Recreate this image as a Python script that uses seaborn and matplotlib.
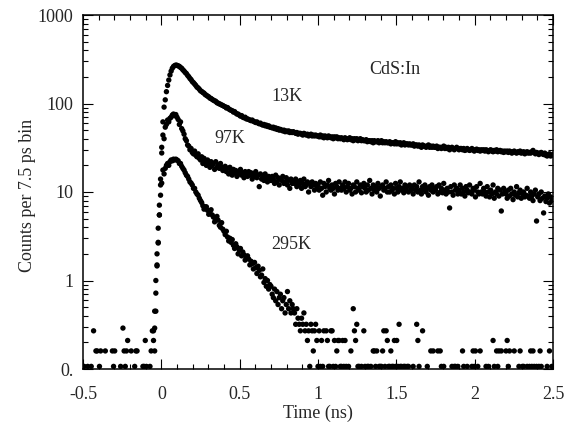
"""
plot.py - CdS:In time-resolved photoluminescence decays at three temperatures.
"""

import numpy as np
import pandas as pd
import matplotlib
matplotlib.use('Agg')
import matplotlib.pyplot as plt
import seaborn as sns
from matplotlib.ticker import LogLocator, MultipleLocator, NullFormatter

# ─────────────────────────────────────────────
# Data (counts per bin)
# bins are 7.5 ps wide, starting at -0.5 ns; 0.05 = one count (below the axis)
# ─────────────────────────────────────────────

T_START = -0.5
BIN_NS = 0.0075

counts_13k = [
    0.05, 0.05, 0.05, 0.05, 0.05, 0.05, 0.05, 0.05, 0.05, 0.05, 0.05, 0.05, 0.05, 0.05, 0.05, 0.05, 0.05, 0.05, 0.05, 0.05,
    0.05, 0.05, 0.05, 0.05, 0.05, 0.05, 0.05, 0.05, 0.05, 0.05, 0.05, 0.05, 0.05, 0.05, 0.05, 0.05, 0.05, 0.05, 0.05, 0.05,
    0.05, 0.05, 0.05, 0.05, 0.05, 0.05, 0.05, 0.05, 0.05, 0.05, 0.05, 0.05, 0.05, 0.05, 0.05, 0.05, 0.05, 0.05, 0.05, 0.05,
    0.05, 0.16, 0.45, 1.46, 2.65, 5.5, 12, 32, 62, 91, 110, 136, 160, 184, 210, 232, 250, 262, 268, 272,
    270, 266, 263, 255, 250, 240, 233, 224, 218, 208, 201, 192, 186, 177, 172, 166, 160, 153, 150, 145,
    139, 137, 133, 131, 126, 124, 121, 119, 115, 114, 111, 109, 107, 106, 102, 101, 99, 98, 96, 95,
    93, 92, 89, 90, 87, 85, 84, 83, 80, 81, 78, 76, 76, 74, 72, 73, 70, 69, 70, 67,
    67, 66, 65, 64, 65, 63, 62, 61, 62, 60, 59, 60, 58, 57, 58, 56, 57, 55, 56, 54,
    54, 53, 54, 52, 53, 51, 52, 50, 51, 50, 49, 50, 48, 49, 48, 49, 47, 48, 47, 48,
    47, 46, 47, 45, 46, 46, 45, 44, 46, 45, 44, 45, 43, 44, 45, 43, 44, 43, 44, 43,
    43, 42, 44, 42, 43, 41, 43, 42, 41, 43, 42, 41, 42, 40, 42, 41, 42, 40, 41, 40,
    41, 40, 39, 41, 40, 39, 40, 41, 39, 40, 38, 40, 39, 40, 38, 39, 40, 38, 39, 38,
    38, 39, 37, 38, 38, 37, 38, 36, 38, 37, 37, 38, 36, 37, 38, 36, 37, 36, 37, 36,
    36, 37, 35, 36, 36, 35, 37, 35, 36, 35, 36, 34, 35, 36, 34, 35, 35, 34, 35, 34,
    34, 35, 33, 34, 34, 33, 34, 33, 32, 34, 33, 33, 32, 33, 34, 32, 33, 32, 33, 32,
    32, 33, 31, 32, 32, 31, 32, 33, 31, 32, 31, 32, 30, 31, 32, 31, 30, 31, 32, 31,
    30, 31, 31, 30, 31, 29.5, 30, 31, 30, 29.5, 30, 31, 30, 29, 30, 30.5, 29.5, 30, 29, 30,
    29.5, 30, 29, 30, 29.5, 28.5, 29.5, 30, 29, 28.5, 29.5, 29, 30, 28.5, 29, 29.5, 28.5, 29, 28, 29,
    28.5, 29, 28, 29, 28.5, 27.5, 28.5, 29, 28, 27.5, 28.5, 28, 29, 27.5, 28, 28.5, 27, 28, 28.5, 27.5,
    28, 27.5, 28.5, 29.5, 28, 27, 28, 27.5, 26.5, 27.5, 28, 27, 26.5, 27.5, 26, 25.5, 26.5, 27, 25.5, 26,
    26.5,
]

counts_97k = [
    0.05, 0.05, 0.05, 0.05, 0.05, 0.05, 0.05, 0.05, 0.05, 0.05, 0.05, 0.05, 0.05, 0.05, 0.05, 0.05, 0.05, 0.05, 0.05, 0.05,
    0.05, 0.05, 0.05, 0.05, 0.05, 0.05, 0.05, 0.05, 0.05, 0.05, 0.05, 0.05, 0.05, 0.05, 0.05, 0.05, 0.05, 0.05, 0.05, 0.05,
    0.05, 0.05, 0.05, 0.05, 0.05, 0.05, 0.05, 0.05, 0.05, 0.05, 0.05, 0.05, 0.05, 0.05, 0.05, 0.05, 0.05, 0.05, 0.05, 0.05,
    0.21, 0.29, 1.0, 2.0, 3.9, 7.1, 14, 27.6, 44, 40, 54, 58, 65, 62, 68, 70, 74, 76, 73, 75,
    70, 66, 58, 62, 52, 49, 45, 40, 38, 34, 33, 30, 31, 28, 27, 29, 26, 25, 27, 24,
    23, 25, 21, 24, 22, 20, 23, 21, 19, 22, 20, 21, 18, 22, 19, 20, 18.5, 21, 19, 17.5,
    18, 19.5, 17, 18.5, 16, 19, 17, 15.5, 18, 16.5, 17.5, 15, 17, 16, 18, 15.5, 16.5, 14.5, 17, 16,
    15, 17, 15.5, 16.5, 14, 16, 15, 17, 14.5, 15.5, 11.5, 16, 14, 15, 13.5, 16, 14.5, 13, 15, 14,
    13.5, 15, 14, 12.5, 15.5, 13, 14.5, 12, 14, 13.5, 15, 12.5, 13, 14.5, 12, 13.5, 11, 14, 12.5, 13,
    12.5, 14, 11.5, 13, 12, 13.5, 11, 12.5, 14, 11.5, 12, 13, 10, 12.5, 11.5, 13, 12, 10.5, 12.5, 11.5,
    12, 10.5, 13, 11, 9.2, 12.5, 11.5, 10, 12, 13.5, 11, 10.5, 12, 11, 9.5, 12.5, 11.5, 10.5, 13, 11,
    10.5, 12, 11, 13, 10, 11.5, 12.5, 10.5, 11, 9.5, 12, 11.5, 10, 13, 11, 10.5, 12, 9.8, 11.5, 12.5,
    11, 10, 12, 10.5, 13.5, 11, 9.5, 12, 10.5, 11.5, 10, 12.5, 11, 9, 11.5, 12, 10.5, 11, 13, 10,
    11.5, 10, 12, 10.5, 11, 9.5, 12.5, 11, 10, 11.5, 13, 10.5, 11, 9.8, 12, 10.5, 11.5, 10, 12, 10.5,
    11, 9.5, 12, 10.5, 11.5, 10, 13, 10.5, 9.5, 11.5, 10.5, 12, 10, 11, 9.2, 11.5, 10.5, 12, 10, 11,
    10.5, 11.5, 9.5, 12, 10, 11, 9.8, 12.5, 10.5, 9.5, 11, 10, 6.6, 11.5, 10, 9.2, 12, 10.5, 11, 9.5,
    10.5, 12, 9.5, 11, 10, 9, 11.5, 10.5, 9.8, 12, 10, 9.5, 11, 10.5, 8.8, 11.5, 10, 9.5, 12.5, 10,
    9.5, 11, 10, 9, 11.5, 10, 8.8, 10.5, 9.5, 12, 8.5, 10, 9.5, 11, 9, 10.5, 6.1, 9.5, 11, 10,
    9.5, 8.5, 10.5, 9, 11, 9.5, 8.2, 10, 9.2, 11.5, 8.8, 9.8, 10.5, 8.5, 9.5, 10, 8.8, 9.2, 11, 9,
    8.5, 10, 9, 8, 9.5, 10.5, 4.7, 8.8, 9.5, 8, 10, 8.5, 5.8, 9, 7.8, 8.5, 9.5, 7.5, 8.8, 8,
    8.2,
]

counts_295k = [
    0.05, 0.107, 0.05, 0.05, 0.107, 0.05, 0.05, 0.107, 0.05, 0.27, 0.05, 0.16, 0.16, 0.05, 0.107, 0.16, 0.05, 0.05, 0.05, 0.16,
    0.05, 0.05, 0.05, 0.05, 0.05, 0.16, 0.107, 0.16, 0.05, 0.05, 0.05, 0.05, 0.107, 0.05, 0.29, 0.16, 0.107, 0.16, 0.21, 0.05,
    0.05, 0.16, 0.05, 0.05, 0.107, 0.16, 0.16, 0.05, 0.05, 0.05, 0.05, 0.107, 0.107, 0.21, 0.107, 0.05, 0.05, 0.107, 0.16, 0.27,
    0.27, 0.45, 0.72, 1.5, 2.7, 5.5, 9.2, 12.6, 17.7, 16, 18.5, 20, 21, 20, 22, 23, 22.5, 23.5, 23, 23.5,
    23, 22.5, 21, 21, 19.5, 18.5, 17.7, 16.5, 15.5, 15, 14, 13, 12.6, 12, 11, 11, 10, 9.5, 9.2, 8.5,
    8.0, 7.6, 7.0, 6.4, 6.8, 6.8, 6.2, 5.6, 5.9, 6.3, 5.5, 5.2, 4.6, 5.0, 5.3, 4.8, 4.2, 4.0, 4.5, 3.8,
    3.6, 3.3, 3.6, 3.1, 2.8, 3.0, 2.7, 2.9, 2.5, 2.3, 2.6, 2.4, 2.0, 2.2, 2.3, 1.9, 2.1, 1.95, 1.7, 1.85,
    1.9, 1.75, 1.5, 1.65, 1.55, 1.35, 1.6, 1.4, 1.2, 1.45, 1.3, 1.1, 1.15, 1.35, 0.95, 1.05, 0.86, 1.0, 0.8, 0.9,
    0.86, 0.7, 0.64, 0.8, 0.59, 0.75, 0.535, 0.64, 0.7, 0.48, 0.59, 0.64, 0.43, 0.535, 0.75, 0.48, 0.59, 0.43, 0.535, 0.48,
    0.43, 0.32, 0.48, 0.375, 0.32, 0.27, 0.375, 0.32, 0.43, 0.27, 0.32, 0.21, 0.27, 0.107, 0.32, 0.27, 0.16, 0.27, 0.32, 0.21,
    0.107, 0.27, 0.107, 0.21, 0.107, 0.27, 0.05, 0.27, 0.21, 0.107, 0.107, 0.27, 0.27, 0.107, 0.21, 0.107, 0.16, 0.21, 0.21, 0.107,
    0.107, 0.21, 0.107, 0.21, 0.107, 0.05, 0.107, 0.05, 0.16, 0.05, 0.48, 0.27, 0.21, 0.32, 0.107, 0.107, 0.05, 0.107, 0.05, 0.27,
    0.107, 0.05, 0.107, 0.107, 0.05, 0.107, 0.05, 0.16, 0.16, 0.107, 0.16, 0.05, 0.107, 0.107, 0.107, 0.16, 0.27, 0.107, 0.27, 0.21,
    0.107, 0.107, 0.16, 0.107, 0.107, 0.21, 0.107, 0.21, 0.107, 0.32, 0.107, 0.107, 0.05, 0.107, 0.107, 0.05, 0.107, 0.107, 0.05, 0.05,
    0.05, 0.107, 0.05, 0.05, 0.32, 0.21, 0.107, 0.05, 0.05, 0.27, 0.05, 0.05, 0.05, 0.107, 0.05, 0.05, 0.16, 0.05, 0.16, 0.05,
    0.05, 0.05, 0.16, 0.05, 0.16, 0.107, 0.05, 0.107, 0.05, 0.05, 0.05, 0.05, 0.05, 0.05, 0.107, 0.05, 0.107, 0.107, 0.05, 0.107,
    0.05, 0.05, 0.05, 0.16, 0.107, 0.05, 0.05, 0.107, 0.05, 0.05, 0.05, 0.107, 0.16, 0.107, 0.16, 0.05, 0.107, 0.05, 0.16, 0.05,
    0.05, 0.05, 0.05, 0.107, 0.05, 0.107, 0.05, 0.05, 0.05, 0.21, 0.107, 0.05, 0.16, 0.107, 0.16, 0.05, 0.16, 0.05, 0.05, 0.05,
    0.16, 0.21, 0.107, 0.16, 0.05, 0.05, 0.05, 0.16, 0.05, 0.05, 0.05, 0.107, 0.16, 0.05, 0.107, 0.107, 0.05, 0.05, 0.107, 0.05,
    0.107, 0.16, 0.107, 0.16, 0.107, 0.05, 0.107, 0.05, 0.107, 0.16, 0.107, 0.05, 0.05, 0.05, 0.05, 0.107, 0.05, 0.16, 0.05, 0.107,
    0.05,
]

temperatures = ['13K', '97K', '295K']
label_x = [0.80, 0.44, 0.83]
label_y = [120, 40.7, 2.55]

x_ticks = [-0.5, 0, 0.5, 1, 1.5, 2, 2.5]
x_tick_labels = ['-0.5', '0', '0.5', '1', '1.5', '2', '2.5']
y_ticks = [0.1, 1, 10, 100, 1000]
y_tick_labels = ['0.', '1', '10', '100', '1000']


def build_frame():
    series = [counts_13k, counts_97k, counts_295k]
    n = len(counts_13k)
    assert all(len(s) == n for s in series)
    time_ns = np.round(T_START + BIN_NS * np.arange(n), 4)
    return pd.DataFrame({
        'time': np.tile(time_ns, len(series)),
        'counts': np.concatenate(series),
        'sample': np.repeat(temperatures, n),
    })


def main():
    df = build_frame()

    sns.set_style('ticks')
    plt.rcParams['font.family'] = ['Liberation Serif', 'DejaVu Serif']
    plt.rcParams['font.size'] = 13

    fig = plt.figure(figsize=(5.77, 4.28), dpi=100)
    ax = fig.add_axes([83 / 577, 1 - 369 / 428, (553 - 83) / 577, (369 - 15) / 428])

    sns.scatterplot(data=df, x='time', y='counts', hue='sample',
                    palette=['black'] * 3, s=15, linewidth=0,
                    legend=False, ax=ax)

    ax.set_yscale('log')
    ax.set_xlim(-0.5, 2.5)
    ax.set_ylim(0.1, 1000)

    ax.set_xticks(x_ticks)
    ax.set_xticklabels(x_tick_labels)
    ax.xaxis.set_minor_locator(MultipleLocator(0.1))
    ax.set_yticks(y_ticks)
    ax.set_yticklabels(y_tick_labels)
    ax.yaxis.set_minor_locator(LogLocator(base=10, subs=np.arange(2, 10)))
    ax.yaxis.set_minor_formatter(NullFormatter())

    ax.tick_params(which='both', direction='in', top=True, right=True,
                   width=0.8, color='black')
    ax.tick_params(which='major', length=7, labelsize=13)
    ax.tick_params(which='minor', length=3.6)
    ax.tick_params(axis='x', which='major', pad=12)
    ax.tick_params(axis='y', which='major', pad=7)
    for spine in ax.spines.values():
        spine.set_linewidth(1.1)
        spine.set_color('black')

    ax.set_xlabel('Time (ns)', fontsize=13)
    ax.set_ylabel('Counts per 7.5 ps bin', fontsize=13)
    ax.xaxis.set_label_coords(0.5, -0.1)
    ax.yaxis.set_label_coords(-0.10, 0.49)

    for name, x, y in zip(temperatures, label_x, label_y):
        ax.text(x, y, name, ha='center', va='center', fontsize=13)
    ax.text(1.49, 245, 'CdS:In', ha='center', va='center', fontsize=13)

    fig.savefig('out.png', dpi=100)
    plt.close(fig)


if __name__ == '__main__':
    main()
